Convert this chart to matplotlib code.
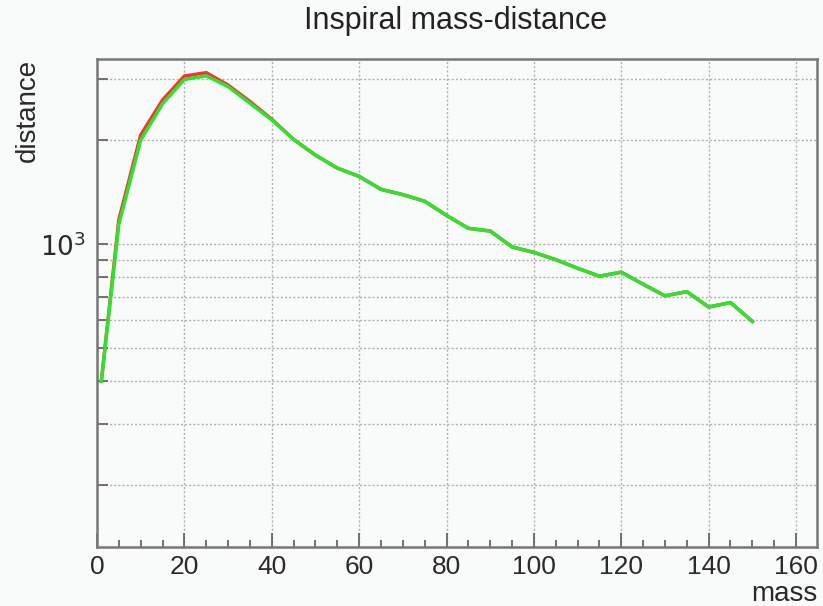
import matplotlib
matplotlib.use("Agg")
import matplotlib.pyplot as plt
from matplotlib.ticker import FixedLocator, FixedFormatter, MultipleLocator

plt.rcParams['font.family'] = ['Liberation Sans', 'DejaVu Sans']

mass = [1, 5, 10, 15, 20, 25, 30, 35, 40, 45, 50, 55, 60, 65, 70, 75, 80,
        85, 90, 95, 100, 105, 110, 115, 120, 125, 130, 135, 140, 145, 150]

dist_green = [400, 1140, 2000, 2550, 3000, 3075, 2860, 2560, 2290, 2010, 1810,
              1660, 1570, 1440, 1390, 1330, 1210, 1110, 1090, 980, 945, 900,
              850, 806, 828, 764, 707, 727, 656, 676, 596]

dist_red = [400, 1175, 2070, 2615, 3070, 3140, 2890, 2590, 2300, 2010, 1810,
            1660, 1570, 1440, 1390, 1330, 1210, 1110, 1090, 980, 945, 900,
            850, 806, 828, 764, 707, 727, 656, 676, 596]

ytick_vals = [200, 300, 400, 500, 600, 700, 800, 900, 1000, 2000, 3000]
ytick_labels = ['' if v != 1000 else r'$10^{3}$' for v in ytick_vals]

bg = '#f9fbfa'
fig = plt.figure(figsize=(8.23, 6.06), dpi=100, facecolor=bg)
ax = fig.add_axes([97 / 823, 59 / 606, 720 / 823, 488 / 606], facecolor=bg)

ax.plot(mass, dist_red, color='#ff3030', lw=2.5, zorder=3)
ax.plot(mass, dist_green, color='#2ee32e', lw=2.5, zorder=4)

ax.set_yscale('log')
ax.set_xlim(0, 164.8)
ax.set_ylim(132, 3440)

ax.yaxis.set_major_locator(FixedLocator(ytick_vals))
ax.yaxis.set_major_formatter(FixedFormatter(ytick_labels))
ax.yaxis.set_minor_locator(FixedLocator([]))
ax.xaxis.set_major_locator(MultipleLocator(20))
ax.xaxis.set_minor_locator(MultipleLocator(5))

ax.tick_params(axis='both', which='both', direction='in', color='#666666',
               width=1.3, labelsize=19, labelcolor='#2a2a2a')
ax.tick_params(axis='x', which='major', length=10, pad=6)
ax.tick_params(axis='x', which='minor', length=5)
ax.tick_params(axis='y', which='major', length=8, pad=8)

ax.grid(True, which='major', color='#b0b0b0', lw=1, linestyle=(0, (1.5, 1.5)))

for s in ax.spines.values():
    s.set_color('#777777')
    s.set_linewidth(1.8)

fig.text(456 / 823, 1 - 29 / 606, 'Inspiral mass-distance', ha='center',
         va='baseline', fontsize=22, color='#222222')
fig.text(817 / 823, 5 / 606, 'mass', ha='right', va='baseline', fontsize=20,
         color='#2a2a2a')
fig.text(27.5 / 823, 1 - 59 / 606, 'distance', ha='center', va='top',
         rotation=90, fontsize=20, color='#2a2a2a')

fig.savefig('out.png', dpi=100, facecolor=bg)
